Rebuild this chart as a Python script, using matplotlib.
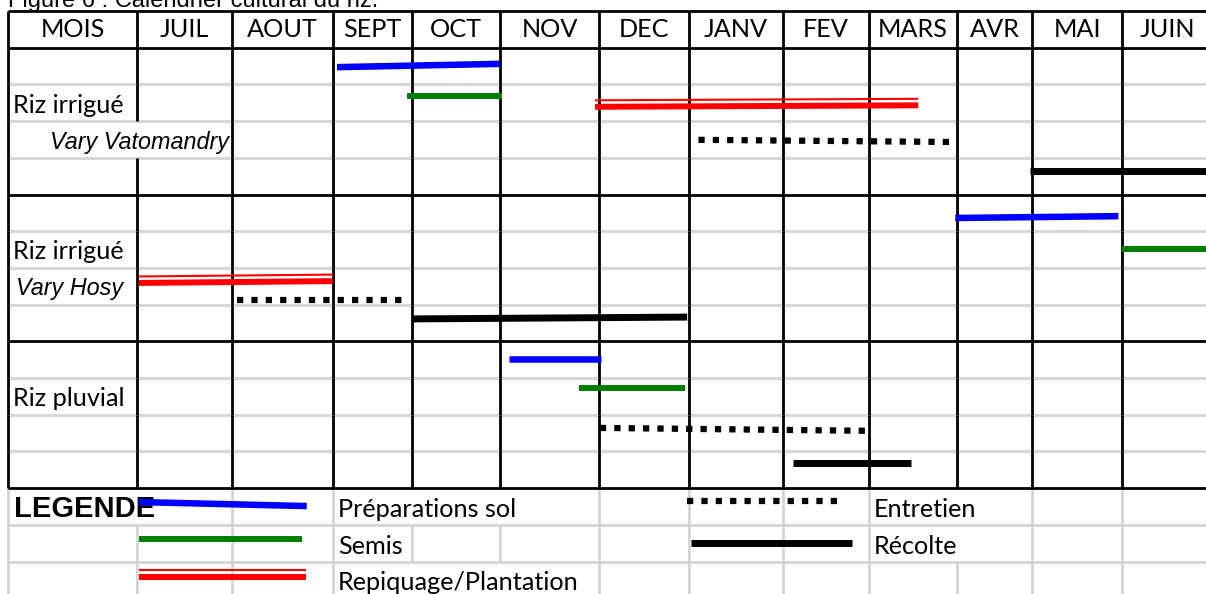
import numpy as np
import matplotlib.pyplot as plt

months = ["JUIL", "AOUT", "SEPT", "OCT", "NOV", "DEC", "JANV", "FEV", "MARS", "AVR", "MAI", "JUIN"]

# periods in month units (0 = start of JUIL), rows counted from the top of the table
# one entry per block: Vary Vatomandry, Vary Hosy, Riz pluvial, legend
prep_start = [2.05, 8.98, 4.09, 0.02]
prep_end = [4.00, 10.96, 5.02, 1.74]
prep_row0 = [1.53, 5.64, 9.48, 13.38]
prep_row1 = [1.44, 5.59, 9.48, 13.49]

semis_start = [2.94, 11.00, 4.80, 0.02]
semis_end = [4.02, 12.00, 5.96, 1.69]
semis_row = [2.32, 6.49, 10.27, 14.39]

repiq_start = [4.96, 0.02, 0.02]
repiq_end = [8.56, 2.00, 1.73]
repiq_row0 = [2.61, 7.41, 15.42]
repiq_row1 = [2.57, 7.36, 15.42]

entretien_start = [6.10, 1.05, 5.01, 5.98]
entretien_end = [8.97, 2.91, 8.02, 7.69]
entretien_row0 = [3.51, 7.87, 11.36, 13.35]
entretien_row1 = [3.57, 7.87, 11.44, 13.35]

recolte_start = [9.97, 3.00, 7.12, 6.02]
recolte_end = [12.00, 5.98, 8.48, 7.80]
recolte_row0 = [4.36, 8.39, 12.32, 14.50]
recolte_row1 = [4.36, 8.34, 12.32, 14.50]

legend_labels = ["Préparations sol", "Semis", "Repiquage/Plantation", "Entretien", "Récolte"]

# sheet layout (pixels)
col_edges = [137, 232, 333, 412, 500, 599, 689, 783, 869, 957, 1032, 1122, 1212]
left_edge = 8
top = 11
row_h = 36.7
W, H = 1206, 594


def xm(m):
    return np.interp(m, np.arange(len(col_edges)), col_edges)


def yr(r):
    return top + row_h * np.asarray(r)


fig = plt.figure(figsize=(12.06, 5.94), dpi=100)
ax = fig.add_axes([0, 0, 1, 1])
ax.set_xlim(0, W)
ax.set_ylim(H, 0)
ax.axis('off')

black_rows = [0, 1, 5, 9, 13]
gray = '#d4d4d4'
for k in range(17):
    c = 'black' if k in black_rows else gray
    ax.hlines(yr(k), left_edge, W, colors=c, lw=2, zorder=2 if c == 'black' else 1)

# grid segments hidden behind overflowing cell text
vx = [left_edge] + col_edges[:-1]
hidden = {(3, 1), (13, 1), (13, 4), (13, 5), (13, 10), (14, 10), (15, 4), (15, 5)}
for r in range(16):
    for i, x in enumerate(vx):
        if (r, i) in hidden:
            continue
        c = 'black' if r < 13 else gray
        ax.vlines(x, yr(r), yr(r + 1), colors=c, lw=2, zorder=2 if c == 'black' else 1)

calibri = 'Lato'
fs = 18.2
ax.text(left_edge, 7, "Figure 6 : Calendrier cultural du riz.", family='Liberation Sans',
        fontsize=17, va='baseline', ha='left')
ax.text((left_edge + col_edges[0]) / 2, yr(0.5), "MOIS", family=calibri, fontsize=fs,
        ha='center', va='center')
for i, m in enumerate(months):
    ax.text((col_edges[i] + col_edges[i + 1]) / 2, yr(0.5), m, family=calibri, fontsize=fs,
            ha='center', va='center')

ax.text(13, yr(3) - 8, "Riz irrigué", family=calibri, fontsize=fs, va='baseline')
ax.text(229, yr(4) - 9, "Vary Vatomandry", family='Liberation Sans', style='italic',
        fontsize=16.8, va='baseline', ha='right')
ax.text(13, yr(7) - 9, "Riz irrigué", family=calibri, fontsize=fs, va='baseline')
ax.text(16, yr(8) - 10, "Vary Hosy", family='Liberation Sans', style='italic',
        fontsize=16.8, va='baseline')
ax.text(13, yr(11) - 9, "Riz pluvial", family=calibri, fontsize=fs, va='baseline')

ax.text(14, yr(14) - 8, "LEGENDE", family='Liberation Sans', weight='bold', fontsize=21,
        va='baseline')
leg_pos = [(338, 14), (338, 15), (338, 16), (874, 14), (874, 15)]
for lab, (x, r) in zip(legend_labels, leg_pos):
    ax.text(x, yr(r) - 8, lab, family=calibri, fontsize=fs, va='baseline')

kw = dict(solid_capstyle='butt', zorder=4)
for s, e, a, b in zip(prep_start, prep_end, prep_row0, prep_row1):
    ax.plot([xm(s), xm(e)], [yr(a), yr(b)], color='#0000ff', lw=4.7, **kw)
for s, e, a in zip(semis_start, semis_end, semis_row):
    ax.plot([xm(s), xm(e)], [yr(a), yr(a)], color='#008000', lw=4.3, **kw)
for s, e, a, b in zip(repiq_start, repiq_end, repiq_row0, repiq_row1):
    ax.plot([xm(s), xm(e)], [yr(a), yr(b)], color='#ff0000', lw=4.3, **kw)
    ax.plot([xm(s), xm(e)], [yr(a) - 6.5, yr(b) - 6.5], color='#ff0000', lw=1.5, **kw)
for s, e, a, b in zip(entretien_start, entretien_end, entretien_row0, entretien_row1):
    ax.plot([xm(s), xm(e)], [yr(a), yr(b)], color='black', lw=4.5,
            linestyle=(0, (1, 1.3)), dash_capstyle='butt', zorder=4)
for s, e, a, b in zip(recolte_start, recolte_end, recolte_row0, recolte_row1):
    ax.plot([xm(s), xm(e)], [yr(a), yr(b)], color='black', lw=5, **kw)

fig.savefig('out.png', dpi=100)
